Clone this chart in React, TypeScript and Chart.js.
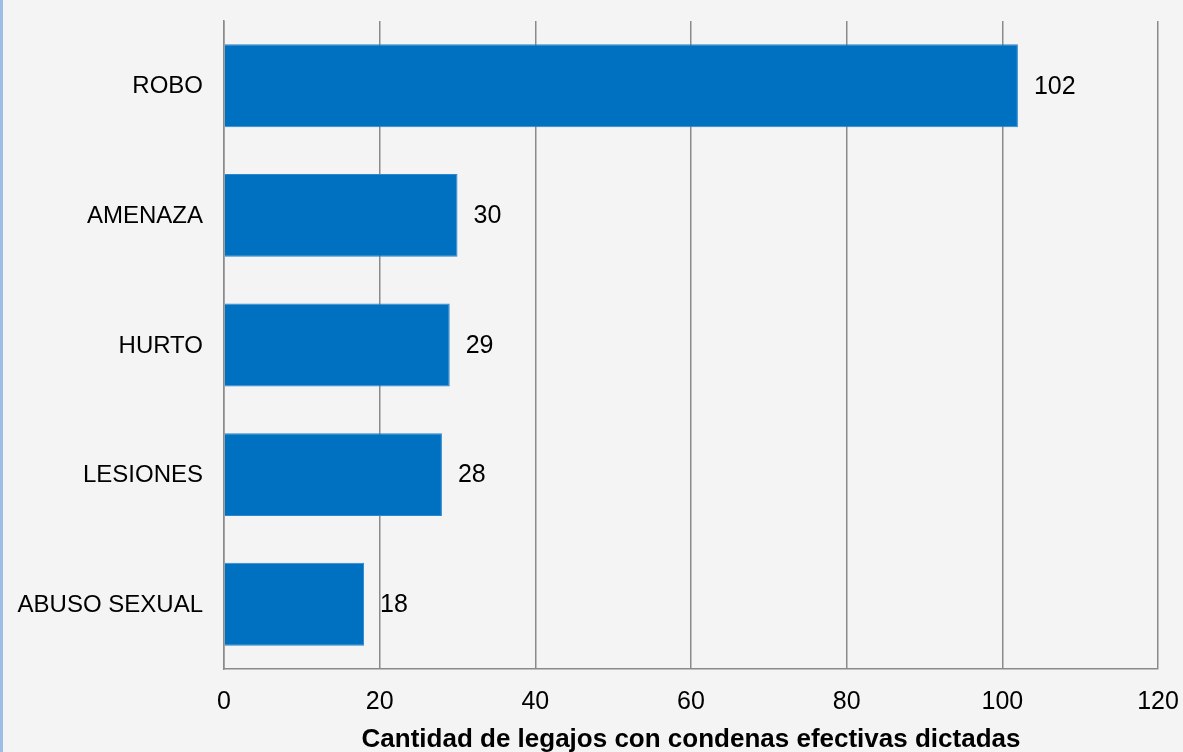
import React, { useEffect, useRef } from "react";
import { Chart, registerables } from "chart.js";

Chart.register(...registerables);

const categories: string[] = ["ROBO", "AMENAZA", "HURTO", "LESIONES", "ABUSO SEXUAL"];
const values: number[] = [102, 30, 29, 28, 18];
const xTicks: number[] = [0, 20, 40, 60, 80, 100, 120];
const axisTitle = "Cantidad de legajos con condenas efectivas dictadas";

const FONT = "'Liberation Sans', Arial, sans-serif";

export default function App() {
  const ref = useRef<HTMLCanvasElement | null>(null);

  useEffect(() => {
    if (!ref.current) return;
    const bgPlugin = {
      id: "bg",
      beforeDraw(chart: any) {
        const { ctx, width, height } = chart;
        ctx.save();
        ctx.fillStyle = "#f4f4f4";
        ctx.fillRect(0, 0, width, height);
        ctx.fillStyle = "#9dbde6";
        ctx.fillRect(0, 0, 3, height);
        ctx.restore();
      },
    };
    const textPlugin = {
      id: "texts",
      afterDraw(chart: any) {
        const { ctx, chartArea } = chart;
        const xs = chart.scales.x;
        const ys = chart.scales.y;
        const meta = chart.getDatasetMeta(0);
        ctx.save();
        ctx.fillStyle = "#000";
        // value labels
        ctx.font = `25px ${FONT}`;
        ctx.textBaseline = "middle";
        ctx.textAlign = "left";
        meta.data.forEach((bar: any, i: number) => {
          ctx.fillText(String(values[i]), bar.x + 16, bar.y + 1);
        });
        // category labels
        ctx.font = `24px ${FONT}`;
        ctx.textAlign = "right";
        categories.forEach((c, i) => {
          ctx.fillText(c, chartArea.left - 21, ys.getPixelForValue(i) + 1);
        });
        // x tick labels
        ctx.font = `25px ${FONT}`;
        ctx.textAlign = "center";
        xTicks.forEach((v) => {
          ctx.fillText(String(v), xs.getPixelForValue(v), 702);
        });
        // axis title
        ctx.font = `bold 26px ${FONT}`;
        ctx.fillText(axisTitle, (chartArea.left + chartArea.right) / 2, 740);
        ctx.restore();
      },
    };
    const chart = new Chart(ref.current, {
      type: "bar",
      data: {
        labels: categories,
        datasets: [
          {
            data: values,
            backgroundColor: "#0070C0",
            borderColor: "#2a86cf",
            borderWidth: 1,
            categoryPercentage: 1,
            barPercentage: 0.64,
          },
        ],
      },
      options: {
        indexAxis: "y",
        responsive: false,
        animation: false,
        devicePixelRatio: 1,
        layout: { padding: { left: 0, right: 25, top: 21, bottom: 83 } },
        plugins: {
          legend: { display: false },
          tooltip: { enabled: false },
        },
        scales: {
          x: {
            min: 0,
            max: 120,
            afterBuildTicks(scale: any) {
              scale.ticks = xTicks.map((v) => ({ value: v }));
            },
            afterFit(scale: any) {
              scale.height = 0;
            },
            grid: { color: "#8a8a8a", lineWidth: 1.5, drawTicks: false },
            border: { display: true, color: "#8a8a8a", width: 1.5 },
            ticks: { display: false },
          },
          y: {
            afterFit(scale: any) {
              scale.width = 224;
            },
            grid: { display: false, drawTicks: false },
            border: { display: true, color: "#8a8a8a", width: 1.5 },
            ticks: { display: false },
          },
        },
      },
      plugins: [bgPlugin, textPlugin],
    });
    return () => chart.destroy();
  }, []);

  return (
    <div style={{ position: "fixed", left: 0, top: 0, width: 1183, height: 752 }}>
      <canvas ref={ref} width={1183} height={752} style={{ display: "block" }} />
    </div>
  );
}
